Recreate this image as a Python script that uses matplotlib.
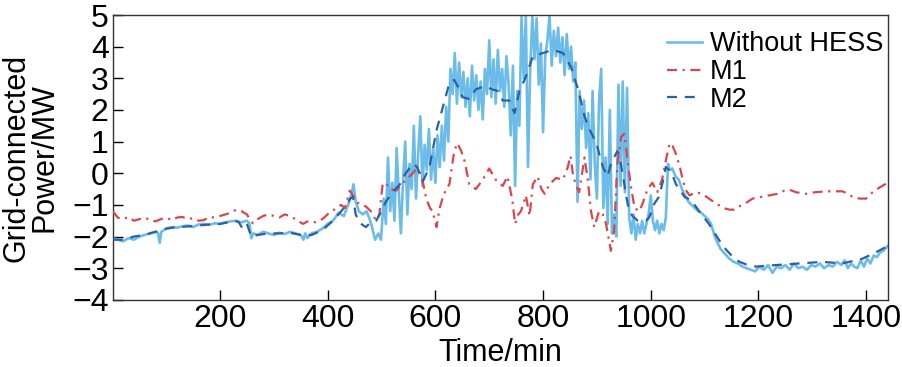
import numpy as np
import matplotlib
matplotlib.use("Agg")
import matplotlib.pyplot as plt

plt.rcParams['font.family'] = ['Liberation Sans', 'DejaVu Sans']

# Without HESS: time (min) and power (MW)
t_raw = [1, 10, 20, 30, 40, 50, 60, 70, 80, 85, 88, 91, 100, 110, 120, 130, 140,
         150, 160, 170, 180, 190, 200, 210, 220, 230, 240, 250, 255, 258, 262, 270,
         280, 290, 300, 310, 320, 330, 340, 350, 355, 358, 362, 370, 380, 390, 400,
         410, 420, 430, 440, 445, 448, 452, 458, 465, 472, 478, 483, 488, 494, 499,
         504, 508, 512, 516, 520, 524, 528, 532, 536, 540, 544, 548, 552, 556, 560,
         564, 568, 572, 576, 580, 584, 588, 592, 596, 600, 604, 608, 612, 616, 620,
         624, 628, 632, 636, 640, 644, 648, 652, 656, 660, 664, 668, 672, 676, 680,
         684, 688, 692, 696, 700, 704, 708, 712, 716, 720, 724, 728, 732, 736, 740,
         744, 748, 752, 756, 760, 764, 768, 772, 776, 780, 784, 788, 792, 796, 800,
         804, 808, 812, 816, 820, 824, 828, 832, 836, 840, 844, 848, 852, 856, 860,
         864, 868, 872, 876, 880, 884, 888, 892, 896, 900, 904, 908, 912, 916, 920,
         924, 928, 932, 936, 940, 944, 948, 952, 956, 960, 964, 968, 972, 976, 980,
         984, 988, 992, 996, 1000, 1004, 1008, 1012, 1016, 1020, 1024, 1028, 1032,
         1036, 1040, 1046, 1052, 1058, 1064, 1070, 1076, 1082, 1088, 1094, 1100,
         1106, 1112, 1118, 1124, 1130, 1138, 1146, 1154, 1162, 1170, 1178, 1186,
         1194, 1202, 1210, 1218, 1226, 1234, 1242, 1250, 1258, 1266, 1274, 1282,
         1290, 1298, 1306, 1314, 1322, 1330, 1338, 1346, 1354, 1360, 1366, 1372,
         1378, 1384, 1390, 1396, 1402, 1408, 1414, 1420, 1426, 1432, 1440]
p_raw = [-2.05, -2.1, -2.15, -2.05, -2.1, -2.0, -1.95, -1.9, -1.85, -1.9, -2.2, -1.85,
         -1.75, -1.7, -1.72, -1.68, -1.65, -1.7, -1.62, -1.6, -1.63, -1.58, -1.6, -1.55,
         -1.52, -1.5, -1.55, -1.5, -1.6, -2.05, -1.9, -1.95, -1.85, -1.9, -1.95, -1.88,
         -1.92, -1.85, -1.9, -1.95, -2.1, -1.9, -2.05, -1.9, -1.85, -1.75, -1.6, -1.5,
         -1.25, -1.35, -0.9, -0.6, -0.35, -0.9, -1.2, -1.3, -1.2, -1.45, -1.75, -2.1,
         -1.9, -2.1,
         -0.8, -1.6, 0.5, -1.2, -0.3, -1.5, 0.8, -0.6, -1.9, -0.2, 1.0, -1.3, 0.3, -0.5,
         1.5, -0.8, 0.6, 1.8, -0.4, 0.9, 0.1, 1.4, -0.2, 0.8, -0.3, 1.2, 0.2, 1.5, 0.4,
         2.1, 1.0, 3.3, 2.5, 3.8, 2.2, 3.5, 2.4, 3.2, 2.1, 3.0, 1.8, 3.4, 2.3, 3.1, 2.0,
         2.9, 1.7, 3.3, 2.5, 4.2, 2.4, 3.6, 2.2, 3.9, 2.6, 3.3, 2.1, 3.7, 2.8, 1.2, 3.4,
         -0.4, 2.6, 1.5, 4.95, 3.0, 5.0, 0.2, 3.2, 5.0, 3.6, 4.9, 2.8, 4.1, 1.3, 3.7,
         4.2, 5.0, 3.4, 4.5, 3.7, 4.6, 3.5, 4.3, 3.1, 4.4, 3.3, 4.0, 2.9, 3.5, -0.9,
         2.6, 1.4, 2.3, 0.8, 1.9, -0.2, 2.6, 0.3, -0.8, 2.3, 3.3, -1.1, 0.5, -1.6, 2.0,
         -1.9, -1.3, -2.0, 2.8, -0.4, 2.9, -0.6, 2.7, -1.4, -1.9, -1.3, -2.1, -1.6,
         -1.9, -1.5, -1.9, -1.6, -1.3, -0.7, -1.5, -1.8, -1.5, -1.9, -1.6, -1.8, -1.4,
         0.3, 0.1, 0.15, -0.1, -0.2, -0.5, -0.7, -0.9, -1.0, -1.1, -1.2, -1.25, -1.35,
         -1.45, -1.6, -1.95, -2.2, -2.4, -2.55, -2.7, -2.8, -2.85, -2.95, -3.0, -3.05,
         -3.1, -2.95, -3.05, -2.9, -3.15, -2.95, -3.0, -2.9, -3.05, -2.85, -3.0, -2.95,
         -3.05, -2.9, -2.95, -2.85, -3.0, -2.9, -2.95, -2.8, -2.9, -2.75, -3.0, -2.85,
         -2.95, -3.0, -2.75, -2.95, -2.7, -2.85, -2.6, -2.65, -2.5, -2.45, -2.3]

# M1
t_m1 = [1, 10, 20, 30, 40, 50, 60, 70, 80, 90, 100, 110, 120, 130, 140, 150, 160,
        170, 180, 190, 200, 210, 220, 230, 240, 250, 255, 261, 270, 280, 290, 300,
        310, 320, 330, 340, 354, 365, 378, 390, 403, 416, 425, 432, 441, 447, 453,
        462, 471, 480, 490, 496, 502, 508, 515, 527, 540, 552, 558, 565, 571, 577,
        583, 590, 595, 602, 608, 614, 620, 626, 635, 641, 648, 654, 663, 675, 688,
        700, 712, 725, 734, 743, 748, 754, 759, 768, 775, 781, 790, 797, 803, 812,
        824, 837, 846, 851, 856, 862, 867, 877, 883, 889, 895, 904, 911, 917, 926,
        932, 938, 945, 951, 957, 963, 970, 979, 985, 994, 1003, 1012, 1021, 1028,
        1035, 1041, 1047, 1054, 1060, 1066, 1072, 1084, 1096, 1108, 1121, 1135, 1146,
        1155, 1164, 1176, 1189, 1205, 1220, 1235, 1248, 1258, 1270, 1289, 1305, 1326,
        1340, 1356, 1366, 1375, 1388, 1400, 1412, 1425, 1440]
p_m1 = [-1.2, -1.4, -1.45, -1.38, -1.5, -1.45, -1.4, -1.48, -1.52, -1.45, -1.4, -1.48,
        -1.4, -1.38, -1.45, -1.42, -1.5, -1.48, -1.38, -1.4, -1.35, -1.3, -1.25, -1.15,
        -1.2, -1.3, -1.45, -1.58, -1.45, -1.35, -1.3, -1.35, -1.4, -1.3, -1.35, -1.45,
        -1.6, -1.5, -1.55, -1.45, -1.25, -1.1, -1.0, -1.1, -0.55, -0.7, -0.9, -1.0,
        -1.05, -1.2, -1.5, -1.3, -0.35, -0.3, -0.5, -0.55, -0.3, -0.1, 0.0, 0.15, 0.0,
        -0.3, -0.8, -1.1, -1.2, -1.7, -1.1, -0.75, -0.5, -0.35, 0.7, 0.95, 0.7, 0.4,
        -0.35, -0.5, -0.2, 0.15, -0.2, -0.4, -0.1, -0.85, -1.6, -1.3, -1.2, -0.7, -1.35,
        -0.35, -0.1, -0.5, -0.65, -0.35, -0.15, -0.2, 0.2, 0.55, -0.1, -0.4, -0.6, 0.5,
        -0.2, -1.2, -1.7, -1.2, -1.3, -1.6, -2.45, -1.8, 0.3, 1.15, 1.25, 0.4, -0.4,
        -1.1, -1.2, -0.95, -0.5, -0.3, -0.6, -0.2, 0.4, 0.95, 0.85, 0.6, 0.2, -0.25,
        -0.55, -0.7, -0.6, -0.65, -0.8, -0.95, -1.1, -1.15, -1.15, -1.05, -0.95, -0.8,
        -0.75, -0.7, -0.65, -0.55, -0.52, -0.6, -0.65, -0.6, -0.57, -0.57, -0.57,
        -0.65, -0.75, -0.8, -0.8, -0.6, -0.45, -0.3]

# M2
t_m2 = [1, 20, 40, 60, 80, 100, 120, 140, 160, 180, 200, 215, 228, 235, 242, 250,
        258, 270, 290, 310, 330, 350, 370, 390, 400, 410, 420, 430, 437, 442, 447,
        452, 459, 466, 471, 480, 490, 500, 508, 520, 534, 545, 558, 566, 577, 589,
        602, 614, 626, 635, 643, 651, 663, 675, 691, 706, 716, 725, 737, 747, 756,
        768, 781, 800, 818, 837, 852, 865, 877, 886, 899, 911, 920, 926, 932, 938,
        942, 948, 951, 954, 960, 966, 976, 991, 997, 1007, 1015, 1022, 1028, 1034,
        1040, 1047, 1063, 1075, 1090, 1108, 1121, 1134, 1150, 1165, 1180, 1196, 1233,
        1276, 1319, 1356, 1393, 1418, 1440]
p_m2 = [-2.1, -2.1, -2.0, -1.95, -1.85, -1.75, -1.7, -1.68, -1.65, -1.62, -1.6, -1.55,
        -1.5, -1.55, -1.75, -1.6, -2.0, -1.95, -1.9, -1.9, -1.88, -1.95, -1.95, -1.8,
        -1.65, -1.5, -1.3, -1.1, -0.95, -0.8, -0.75, -1.3, -1.55, -1.65, -1.7, -1.55,
        -1.5, -1.2, -0.9, -0.6, -0.35, 0.0, 0.3, 0.2, -0.25, 0.2, 1.35, 2.1, 2.85, 2.95,
        2.7, 2.4, 2.35, 2.65, 2.75, 2.65, 2.6, 2.3, 2.3, 1.9, 2.6, 3.05, 3.7, 3.8, 3.9,
        3.8, 3.35, 2.65, 1.8, 1.4, 0.95, 0.2, -0.1, 0.3, 0.5, 0.7, 0.55, -0.05, -0.35,
        -0.7, -1.2, -1.35, -1.5, -1.5, -1.4, -0.95, -0.75, -0.3, 0.2, 0.1, -0.05, -0.35,
        -0.75, -0.85, -1.2, -1.6, -1.95, -2.3, -2.6, -2.8, -2.9, -2.95, -2.9, -2.85,
        -2.8, -2.85, -2.7, -2.5, -2.3]

fig = plt.figure(figsize=(9.03, 3.67), dpi=100)
ax = fig.add_axes([0.125, 0.183, 0.858, 0.776])

ax.plot(t_raw, p_raw, color='#6BBCE8', lw=1.9, label='Without HESS', zorder=2)
l1, = ax.plot(t_m1, p_m1, color='#D9464C', lw=1.6, label='M1', zorder=3)
l1.set_dashes([4.5, 2.5, 1, 2.5])
l2, = ax.plot(t_m2, p_m2, color='#2D5FA6', lw=1.6, label='M2', zorder=4)
l2.set_dashes([4.5, 3.5])

ax.set_xlim(1, 1440)
ax.set_ylim(-4, 5)
ax.set_xticks([200, 400, 600, 800, 1000, 1200, 1400])
ax.set_yticks(range(-4, 6))
ax.tick_params(direction='in', length=7, width=1, labelsize=23, pad=3,
               top=False, right=False)
for s in ax.spines.values():
    s.set_linewidth(1.0)
    s.set_color('#333333')

ax.set_xlabel('Time/min', fontsize=22, labelpad=3)
ax.set_ylabel('Grid-connected\nPower/MW', fontsize=22, linespacing=0.9, labelpad=9)

ax.legend(loc='upper right', fontsize=19.5, frameon=False, handlelength=1.3,
          handletextpad=0.3, labelspacing=0.06, borderaxespad=0.1,
          bbox_to_anchor=(1.012, 0.99))

fig.savefig('out.png', dpi=100)
